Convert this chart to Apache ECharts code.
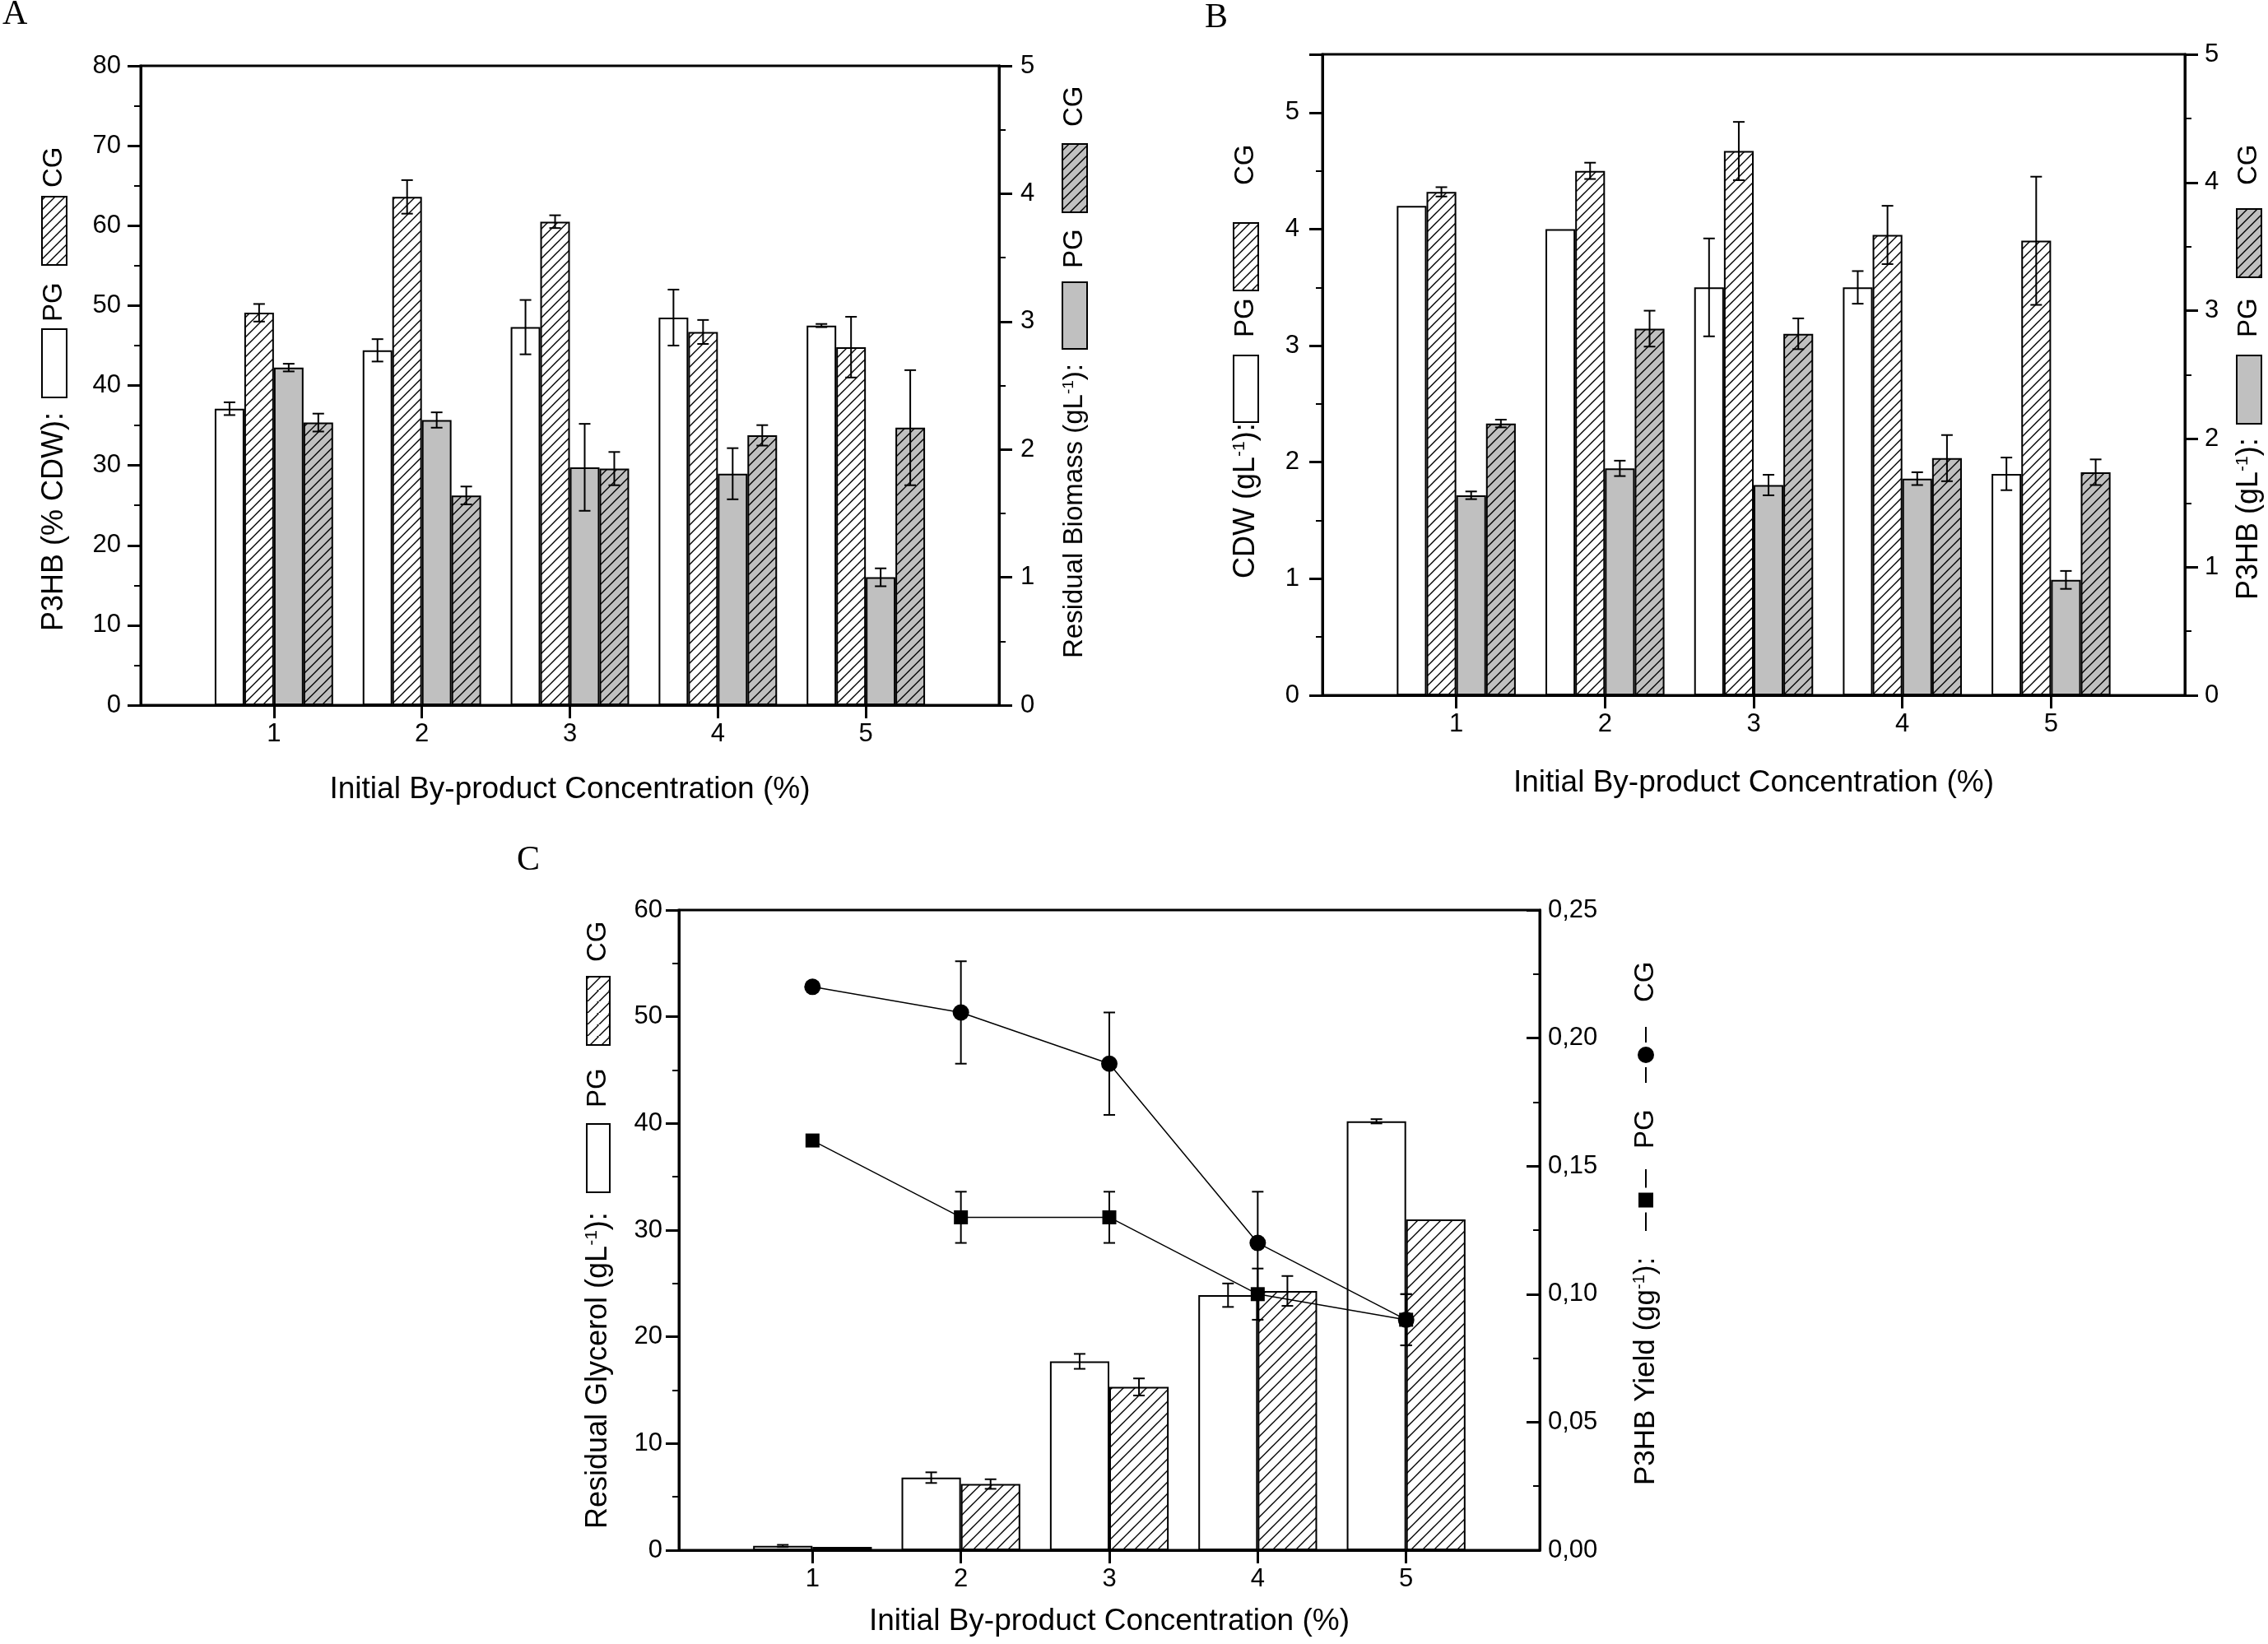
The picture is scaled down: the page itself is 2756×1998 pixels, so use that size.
<!DOCTYPE html>
<html><head><meta charset="utf-8">
<script src="https://cdn.jsdelivr.net/npm/echarts@6/dist/echarts.min.js"></script>
<style>html,body{margin:0;padding:0;background:#fff}#c{width:2756px;height:1998px}</style>
</head><body><div id="c"></div>
<script>
// ---------- data ----------
const categories = [1, 2, 3, 4, 5];
const xTickValues = [1, 2, 3, 4, 5];
const xTitle = 'Initial By-product Concentration (%)';

// Panel A: P3HB (% CDW) on left axis, residual biomass (g/L) on right axis
const A_p3hb_PG = [37.1, 44.4, 47.3, 48.5, 47.5];
const A_p3hb_PG_err = [0.8, 1.4, 3.4, 3.5, 0.2];
const A_p3hb_CG = [49.1, 63.6, 60.5, 46.7, 44.8];
const A_p3hb_CG_err = [1.1, 2.1, 0.8, 1.5, 3.8];
const A_resid_PG = [2.64, 2.23, 1.86, 1.81, 1.00];
const A_resid_PG_err = [0.03, 0.06, 0.34, 0.20, 0.07];
const A_resid_CG = [2.21, 1.64, 1.85, 2.11, 2.17];
const A_resid_CG_err = [0.07, 0.07, 0.13, 0.08, 0.45];

// Panel B: CDW (g/L) on left axis, P3HB (g/L) on right axis
const B_cdw_PG = [4.2, 4.0, 3.5, 3.5, 1.9];
const B_cdw_PG_err = [0, 0, 0.42, 0.14, 0.14];
const B_cdw_CG = [4.32, 4.50, 4.67, 3.95, 3.90];
const B_cdw_CG_err = [0.04, 0.07, 0.25, 0.25, 0.55];
const B_p3hb_PG = [1.56, 1.77, 1.64, 1.69, 0.90];
const B_p3hb_PG_err = [0.03, 0.06, 0.08, 0.05, 0.07];
const B_p3hb_CG = [2.12, 2.86, 2.82, 1.85, 1.74];
const B_p3hb_CG_err = [0.03, 0.14, 0.12, 0.18, 0.10];

// Panel C: residual glycerol (g/L) bars, P3HB yield (g/g) lines
const C_glyc_PG = [0.4, 6.8, 17.7, 23.9, 40.2];
const C_glyc_PG_err = [0.1, 0.5, 0.7, 1.1, 0.2];
const C_glyc_CG = [0.3, 6.2, 15.3, 24.3, 31.0];
const C_glyc_CG_err = [0, 0.45, 0.8, 1.4, 0];
const C_yield_PG = [0.16, 0.13, 0.13, 0.10, 0.09];
const C_yield_PG_err = [0, 0.01, 0.01, 0.01, 0.01];
const C_yield_CG = [0.22, 0.21, 0.19, 0.12, 0.09];
const C_yield_CG_err = [0, 0.02, 0.02, 0.02, 0.01];

// axis ranges [min, max, interval]
const A_leftAxis = [0, 80, 10];
const A_rightAxis = [0, 5, 1];
const B_leftAxis = [0, 5.5, 1];
const B_rightAxis = [0, 5, 1];
const C_leftAxis = [0, 60, 10];
const C_rightAxis = [0, 0.25, 0.05];

// ---------- styles ----------
const FF = 'Liberation Sans';
const GREY = '#c0c0c0';
const TICK_FS = 31;
function hatch(bg, size, back) {
  const c = document.createElement('canvas');
  c.width = size; c.height = size;
  const g = c.getContext('2d');
  g.fillStyle = bg; g.fillRect(0, 0, size, size);
  g.strokeStyle = '#000'; g.lineWidth = 1.4;
  g.beginPath();
  if (!back) {
    g.moveTo(0, size); g.lineTo(size, 0);
    g.moveTo(-size / 2, size / 2); g.lineTo(size / 2, -size / 2);
    g.moveTo(size / 2, size * 1.5); g.lineTo(size * 1.5, size / 2);
  } else {
    g.moveTo(0, 0); g.lineTo(size, size);
    g.moveTo(-size / 2, size / 2); g.lineTo(size / 2, size * 1.5);
    g.moveTo(size / 2, -size / 2); g.lineTo(size * 1.5, size / 2);
  }
  g.stroke();
  return { image: c, repeat: 'repeat' };
}
const hatchW = hatch('#ffffff', 12);
const hatchG = hatch(GREY, 12);
const hatchWC = hatch('#ffffff', 14);
// legend swatches sit in rotated groups, so their hatching is drawn mirrored
const hatchWL = hatch('#ffffff', 12, true);
const hatchGL = hatch(GREY, 12, true);
const hatchWCL = hatch('#ffffff', 14, true);

function pairs(vals) { return categories.map((c, i) => [c, vals[i]]); }

function barSeries(xi, yi, vals, fill, width) {
  return {
    type: 'bar', xAxisIndex: xi, yAxisIndex: yi, data: pairs(vals),
    barWidth: width, barGap: '0%', silent: true, z: 2,
    itemStyle: { color: fill, borderColor: '#000', borderWidth: 2 }
  };
}
function errSeries(xi, yi, vals, errs, slot, frac) {
  const data = [];
  vals.forEach((v, i) => { if (errs[i] > 0) data.push([categories[i], v - errs[i], v + errs[i], slot]); });
  return {
    type: 'custom', xAxisIndex: xi, yAxisIndex: yi, silent: true, z: 5,
    encode: { x: 0, y: [1, 2] },
    data: data,
    renderItem: function (params, api) {
      const unit = api.size([1, 0])[0];
      const x = api.coord([api.value(0), 0])[0] + api.value(3) * unit * frac;
      const yl = api.coord([api.value(0), api.value(1)])[1];
      const yh = api.coord([api.value(0), api.value(2)])[1];
      const hw = 7;
      const st = { stroke: '#000', lineWidth: 2 };
      return {
        type: 'group', children: [
          { type: 'line', shape: { x1: x, y1: yl, x2: x, y2: yh }, style: st },
          { type: 'line', shape: { x1: x - hw, y1: yl, x2: x + hw, y2: yl }, style: st },
          { type: 'line', shape: { x1: x - hw, y1: yh, x2: x + hw, y2: yh }, style: st }
        ]
      };
    }
  };
}

function xAxisDef(gi, gap) {
  return {
    type: 'value', gridIndex: gi, position: 'bottom', min: 0.1, max: 5.9,
    axisLine: { show: true, onZero: false, lineStyle: { color: '#000', width: 3 } },
    axisTick: { show: true, length: 16, customValues: xTickValues, lineStyle: { color: '#000', width: 3 } },
    axisLabel: { show: true, fontSize: TICK_FS, fontFamily: FF, color: '#000', margin: 20, customValues: xTickValues,
      formatter: v => String(v) },
    splitLine: { show: false }, minorTick: { show: false },
    name: xTitle, nameLocation: 'middle', nameGap: gap,
    nameTextStyle: { fontSize: 37, fontFamily: FF, color: '#000' }
  };
}
function yAxisDef(gi, pos, rng, fmt, margin, inside) {
  return {
    type: 'value', gridIndex: gi, position: pos, min: rng[0], max: rng[1], interval: rng[2],
    axisLine: { show: true, onZero: false, lineStyle: { color: '#000', width: 3 } },
    axisTick: { show: true, inside: !!inside, length: 16, lineStyle: { color: '#000', width: 3 } },
    minorTick: { show: true, splitNumber: 2, length: 8, lineStyle: { color: '#000', width: 2 } },
    axisLabel: { fontSize: TICK_FS, fontFamily: FF, color: '#000', margin: margin, formatter: fmt },
    splitLine: { show: false }, minorSplitLine: { show: false }
  };
}
const intFmt = v => (Math.abs(v - Math.round(v)) < 1e-9 ? String(Math.round(v)) : '');
const commaFmt = v => v.toFixed(2).replace('.', ',');

// ---------- rotated legend/axis-title columns ----------
function column(cx, items) {
  const children = [];
  items.forEach(it => {
    if (it.t === 'text') {
      const fs = it.size || 34;
      children.push({
        type: 'text', x: -it.bottom, y: 0,
        style: { text: it.s, fill: '#000', align: 'left', verticalAlign: 'middle',
          fontSize: fs, fontFamily: FF,
          rich: { a: { fontSize: fs, fontFamily: FF, fill: '#000' },
                  s: { fontSize: Math.round(fs * 0.58), fontFamily: FF, fill: '#000', verticalAlign: 'top' } } }
      });
    } else if (it.t === 'box') {
      const w = it.w || 30;
      children.push({
        type: 'rect', shape: { x: -it.bottom, y: -w / 2, width: it.bottom - it.top, height: w },
        style: { fill: it.fill, stroke: '#000', lineWidth: 2 }
      });
    } else if (it.t === 'sym') {
      const mid = (it.top + it.bottom) / 2;
      const st = { stroke: '#000', lineWidth: 2 };
      children.push({ type: 'line', shape: { x1: -it.bottom, y1: 0, x2: -(mid + 15), y2: 0 }, style: st });
      children.push({ type: 'line', shape: { x1: -(mid - 15), y1: 0, x2: -it.top, y2: 0 }, style: st });
      if (it.symbol === 'rect') {
        children.push({ type: 'rect', shape: { x: -mid - 9, y: -9, width: 18, height: 18 }, style: { fill: '#000' } });
      } else {
        children.push({ type: 'circle', shape: { cx: -mid, cy: 0, r: 10 }, style: { fill: '#000' } });
      }
    }
  });
  return { type: 'group', x: cx, y: 0, rotation: Math.PI / 2, silent: true, children: children };
}

const graphics = [
  { type: 'text', x: 3, y: -3, style: { text: 'A', fontSize: 42, fontFamily: 'Liberation Serif', fill: '#000' } },
  { type: 'text', x: 1464, y: 1, style: { text: 'B', fontSize: 42, fontFamily: 'Liberation Serif', fill: '#000' } },
  { type: 'text', x: 628, y: 1025, style: { text: 'C', fontSize: 42, fontFamily: 'Liberation Serif', fill: '#000' } },
  column(66, [
    { t: 'text', s: '{a|P3HB (% CDW):}', bottom: 767, size: 36 },
    { t: 'box', fill: '#ffffff', top: 400, bottom: 483 },
    { t: 'text', s: '{a|PG}', bottom: 391, size: 33 },
    { t: 'box', fill: hatchWL, top: 239, bottom: 322 },
    { t: 'text', s: '{a|CG}', bottom: 228, size: 33 }
  ]),
  column(1306, [
    { t: 'text', s: '{a|Residual Biomass (gL}{s|-1}{a|):}', bottom: 800, size: 33 },
    { t: 'box', fill: GREY, top: 343, bottom: 424 },
    { t: 'text', s: '{a|PG}', bottom: 326, size: 33 },
    { t: 'box', fill: hatchGL, top: 175, bottom: 258 },
    { t: 'text', s: '{a|CG}', bottom: 154, size: 33 }
  ]),
  column(1514, [
    { t: 'text', s: '{a|CDW (gL}{s|-1}{a|):}', bottom: 703, size: 36 },
    { t: 'box', fill: '#ffffff', top: 432, bottom: 513 },
    { t: 'text', s: '{a|PG}', bottom: 410, size: 33 },
    { t: 'box', fill: hatchWL, top: 271, bottom: 353 },
    { t: 'text', s: '{a|CG}', bottom: 225, size: 33 }
  ]),
  column(2733, [
    { t: 'text', s: '{a|P3HB (gL}{s|-1}{a|):}', bottom: 729, size: 36 },
    { t: 'box', fill: GREY, top: 432, bottom: 515 },
    { t: 'text', s: '{a|PG}', bottom: 410, size: 33 },
    { t: 'box', fill: hatchGL, top: 254, bottom: 337 },
    { t: 'text', s: '{a|CG}', bottom: 225, size: 33 }
  ]),
  column(727, [
    { t: 'text', s: '{a|Residual Glycerol (gL}{s|-1}{a|):}', bottom: 1858, size: 36 },
    { t: 'box', fill: '#ffffff', top: 1366, bottom: 1449, w: 28 },
    { t: 'text', s: '{a|PG}', bottom: 1346, size: 33 },
    { t: 'box', fill: hatchWCL, top: 1187, bottom: 1270, w: 28 },
    { t: 'text', s: '{a|CG}', bottom: 1169, size: 33 }
  ]),
  column(2000, [
    { t: 'text', s: '{a|P3HB Yield (gg}{s|-1}{a|):}', bottom: 1805, size: 35 },
    { t: 'sym', symbol: 'rect', top: 1421, bottom: 1496 },
    { t: 'text', s: '{a|PG}', bottom: 1396, size: 33 },
    { t: 'sym', symbol: 'circle', top: 1248, bottom: 1316 },
    { t: 'text', s: '{a|CG}', bottom: 1218, size: 33 }
  ])
];

const gridBase = { show: true, borderColor: '#000', borderWidth: 3, backgroundColor: 'transparent',
  containLabel: false, outerBoundsMode: 'none' };

const option = {
  animation: false,
  backgroundColor: '#ffffff',
  textStyle: { fontFamily: FF, color: '#000' },
  grid: [
    Object.assign({ left: 171, top: 80, width: 1043, height: 777 }, gridBase),
    Object.assign({ left: 1607, top: 66, width: 1048, height: 779 }, gridBase),
    Object.assign({ left: 825, top: 1106, width: 1046, height: 778 }, gridBase)
  ],
  xAxis: [xAxisDef(0, 84), xAxisDef(1, 88), xAxisDef(2, 68)],
  yAxis: [
    yAxisDef(0, 'left', A_leftAxis, intFmt, 24),
    yAxisDef(0, 'right', A_rightAxis, intFmt, 26),
    yAxisDef(1, 'left', B_leftAxis, intFmt, 28),
    yAxisDef(1, 'right', B_rightAxis, intFmt, 24),
    yAxisDef(2, 'left', C_leftAxis, intFmt, 20),
    yAxisDef(2, 'right', C_rightAxis, commaFmt, 10, true)
  ],
  graphic: graphics,
  series: [
    // Panel A
    barSeries(0, 0, A_p3hb_PG, '#ffffff', '20%'),
    barSeries(0, 0, A_p3hb_CG, hatchW, '20%'),
    barSeries(0, 1, A_resid_PG, GREY, '20%'),
    barSeries(0, 1, A_resid_CG, hatchG, '20%'),
    errSeries(0, 0, A_p3hb_PG, A_p3hb_PG_err, -1.5, 0.2),
    errSeries(0, 0, A_p3hb_CG, A_p3hb_CG_err, -0.5, 0.2),
    errSeries(0, 1, A_resid_PG, A_resid_PG_err, 0.5, 0.2),
    errSeries(0, 1, A_resid_CG, A_resid_CG_err, 1.5, 0.2),
    // Panel B
    barSeries(1, 2, B_cdw_PG, '#ffffff', '20%'),
    barSeries(1, 2, B_cdw_CG, hatchW, '20%'),
    barSeries(1, 3, B_p3hb_PG, GREY, '20%'),
    barSeries(1, 3, B_p3hb_CG, hatchG, '20%'),
    errSeries(1, 2, B_cdw_PG, B_cdw_PG_err, -1.5, 0.2),
    errSeries(1, 2, B_cdw_CG, B_cdw_CG_err, -0.5, 0.2),
    errSeries(1, 3, B_p3hb_PG, B_p3hb_PG_err, 0.5, 0.2),
    errSeries(1, 3, B_p3hb_CG, B_p3hb_CG_err, 1.5, 0.2),
    // Panel C
    barSeries(2, 4, C_glyc_PG, '#ffffff', '40%'),
    barSeries(2, 4, C_glyc_CG, hatchWC, '40%'),
    errSeries(2, 4, C_glyc_PG, C_glyc_PG_err, -0.5, 0.4),
    errSeries(2, 4, C_glyc_CG, C_glyc_CG_err, 0.5, 0.4),
    errSeries(2, 5, C_yield_PG, C_yield_PG_err, 0, 0),
    errSeries(2, 5, C_yield_CG, C_yield_CG_err, 0, 0),
    {
      type: 'line', xAxisIndex: 2, yAxisIndex: 5, data: pairs(C_yield_PG), silent: true, z: 6,
      symbol: 'rect', symbolSize: 17, showSymbol: true,
      lineStyle: { color: '#000', width: 1.5 }, itemStyle: { color: '#000' }
    },
    {
      type: 'line', xAxisIndex: 2, yAxisIndex: 5, data: pairs(C_yield_CG), silent: true, z: 6,
      symbol: 'circle', symbolSize: 20, showSymbol: true,
      lineStyle: { color: '#000', width: 1.5 }, itemStyle: { color: '#000' }
    }
  ]
};

const chart = echarts.init(document.getElementById('c'), null, { renderer: 'canvas' });
chart.setOption(option);
</script>
</body></html>
